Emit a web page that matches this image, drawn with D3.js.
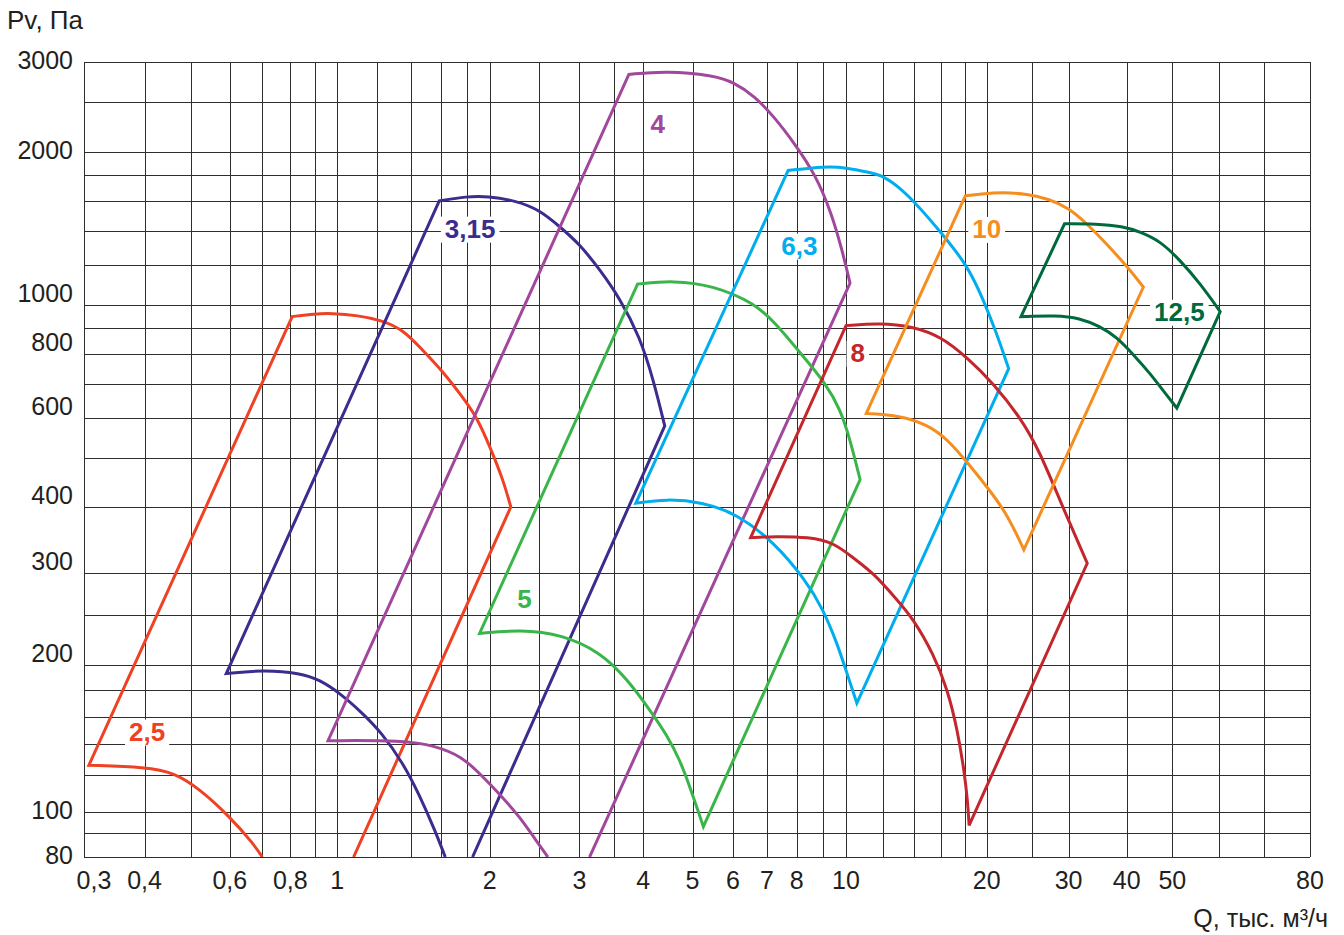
<!DOCTYPE html>
<html>
<head>
<meta charset="utf-8">
<script src="https://cdn.jsdelivr.net/npm/d3@7"></script>
<style>
body { margin: 0; background: #fff; }
svg text { font-family: "Liberation Sans", Arial, Helvetica, sans-serif; fill: #231f20; }
</style>
</head>
<body>
<svg id="chart" width="1344" height="935"></svg>
<script>
// grid lines and labelled ticks, Q in thousand m3/h, P in Pa
const qGrid = [0.3, 0.4, 0.5, 0.6, 0.7, 0.8, 0.9, 1, 1.2, 1.4, 1.6, 1.8, 2, 2.5, 3, 3.5, 4, 5, 6, 7, 8, 9,
    10, 12, 14, 16, 18, 20, 25, 30, 40, 50, 60, 70, 80];
const pGrid = [80, 90, 100, 120, 140, 160, 180, 200, 250, 300, 400, 500, 600, 700, 800, 900, 1000,
    1200, 1400, 1600, 1800, 2000, 2500, 3000];
const qTicks = [0.3, 0.4, 0.6, 0.8, 1, 2, 3, 4, 5, 6, 7, 8, 10, 20, 30, 40, 50, 80];
const pTicks = [80, 100, 200, 300, 400, 600, 800, 1000, 2000, 3000];

// fan envelopes: top = max speed curve, bottom = min speed curve (left to right),
// end = foot of the right-hand line on the 80 Pa axis (null when it closes on the bottom curve)
const fan25Top = [[0.807, 950], [0.9, 962], [0.97, 965], [1.1, 955], [1.225, 934], [1.35, 895], [1.47, 818],
    [1.61, 744], [1.762, 662], [1.89, 600], [2.0, 527], [2.125, 453], [2.2, 400]];
const fan25Bottom = [[0.307, 126], [0.404, 124.8], [0.46, 121.5], [0.52, 112], [0.6, 97.5], [0.67, 85.6], [0.7, 80]];
const fan25End = [1.077, 80];

const fan315Top = [[1.59, 1604], [1.8, 1637], [1.98, 1640], [2.26, 1604], [2.5, 1541], [2.74, 1430], [3.0, 1320],
    [3.29, 1175], [3.6, 1032], [3.94, 867], [4.19, 713], [4.41, 578]];
const fan315Bottom = [[0.59, 193], [0.7, 196], [0.84, 193.5], [0.92, 187.8], [1.01, 177.7], [1.114, 163.9],
    [1.224, 148.2], [1.35, 127.1], [1.449, 109.3], [1.56, 91.1], [1.634, 80]];
const fan315End = [1.85, 80];

const fan4Top = [[3.75, 2832], [4.44, 2876], [5.5, 2819], [6.02, 2734], [6.62, 2570], [7.25, 2334], [7.93, 2078],
    [8.72, 1805], [9.37, 1516], [9.83, 1282], [10.2, 1106]];
const fan4Bottom = [[0.957, 142.4], [1.35, 142.7], [1.56, 138.9], [1.762, 131.7], [1.92, 120.3], [2.09, 109.3],
    [2.29, 97.5], [2.466, 86.8], [2.6, 80]];
const fan4End = [3.14, 80];

const fan5Top = [[3.9, 1101], [4.58, 1119], [5.5, 1094], [6.62, 1009], [7.25, 925], [8.18, 800], [9.12, 702],
    [9.75, 623], [10.2, 544], [10.72, 453]];
const fan5Bottom = [[1.91, 230], [2.29, 234], [2.78, 229], [3.29, 212], [3.71, 189.4], [4.19, 161.6],
    [4.44, 147], [4.72, 129.6], [4.93, 113.8], [5.12, 100.8], [5.25, 92.9]];

const fan63Top = [[7.7, 1841], [9.1, 1877], [10.0, 1866], [11.27, 1823], [12, 1800], [13.47, 1668], [16, 1389],
    [18.2, 1197], [19.69, 1024], [21.0, 881], [22.3, 750]];
const fan63Bottom = [[3.87, 407], [4.44, 415], [5.22, 409], [6.1, 389], [7.25, 342], [8.32, 291], [9.0, 257],
    [9.63, 219], [10.1, 190.6], [10.55, 170]];

const fan8Top = [[10, 912], [11.8, 923], [13.88, 909], [16, 867], [18.2, 787], [20.66, 702], [23.6, 602],
    [26, 515], [28.7, 413], [32.9, 313]];
const fan8Bottom = [[6.5, 350], [7.25, 352], [8.45, 351], [9.5, 342], [10.37, 320], [11.45, 300], [12.84, 267],
    [13.9, 246], [15.4, 210], [16.5, 180], [17.3, 150.8], [17.9, 122.6], [18.2, 105.8], [18.34, 93.5]];

const fan10Top = [[18, 1641], [19.4, 1655], [21.7, 1668], [24.4, 1655], [27.3, 1617], [30, 1554], [32.7, 1454],
    [36.2, 1320], [40, 1195], [43.4, 1086]];
const fan10Bottom = [[11.05, 612], [13.04, 606], [14.9, 582], [16.5, 544], [18.2, 489], [20, 439], [22.1, 389],
    [24.04, 332]];

const fan125Top = [[29.4, 1446], [34.4, 1446], [39.2, 1430], [42.7, 1395], [47.1, 1338], [51.5, 1228],
    [55.7, 1106], [60.3, 972]];
const fan125Bottom = [[23.7, 950], [28.2, 955], [31.7, 944], [35, 909], [38, 867], [41.3, 800], [44.9, 733],
    [48.2, 672], [50.9, 627]];

const fanNames = ["2,5", "3,15", "4", "5", "6,3", "8", "10", "12,5"];
const fanLabelAt = [[0.405, 149], [1.83, 1415], [4.27, 2270], [2.34, 268], [8.1, 1310], [10.6, 805], [20, 1413],
    [51.4, 971]];
const fanColors = ["#ef4123", "#3b2c8e", "#a1479c", "#3ab54a", "#00adee", "#c4262d", "#f68d1f", "#006a3d"];

const fans = [
    {top: fan25Top, bottom: fan25Bottom, end: fan25End},
    {top: fan315Top, bottom: fan315Bottom, end: fan315End},
    {top: fan4Top, bottom: fan4Bottom, end: fan4End},
    {top: fan5Top, bottom: fan5Bottom, end: null},
    {top: fan63Top, bottom: fan63Bottom, end: null},
    {top: fan8Top, bottom: fan8Bottom, end: null},
    {top: fan10Top, bottom: fan10Bottom, end: null},
    {top: fan125Top, bottom: fan125Bottom, end: null}
];

const svg = d3.select("#chart");

// the printed grid is not evenly logarithmic, so the log scales are pinned
// to where the print puts a few of the grid values
const x = d3.scaleLog()
    .domain([0.3, 1, 2, 10, 20, 40, 50, 60, 70, 80])
    .range([84, 337.3, 489.7, 846, 986.7, 1126.7, 1172.3, 1218.7, 1264.3, 1310]);
const y = d3.scaleLog()
    .domain([80, 100, 160, 200, 300, 400, 1000, 2000, 3000])
    .range([857, 811.7, 717.3, 665.3, 573, 507, 305.3, 152.2, 61.5]);

const plotLeft = x(0.3), plotRight = x(80), plotTop = y(3000), plotBottom = y(80);

svg.append("defs").append("clipPath").attr("id", "plotClip")
    .append("rect")
    .attr("x", plotLeft).attr("y", plotTop)
    .attr("width", plotRight - plotLeft).attr("height", plotBottom - plotTop);

const grid = svg.append("g").attr("shape-rendering", "crispEdges")
    .attr("stroke", "#2e2e2e").attr("stroke-width", 1);
grid.selectAll(".vline").data(qGrid).enter().append("line")
    .attr("x1", d => Math.round(x(d)) + 0.5).attr("x2", d => Math.round(x(d)) + 0.5)
    .attr("y1", plotTop).attr("y2", plotBottom);
grid.selectAll(".hline").data(pGrid).enter().append("line")
    .attr("y1", d => Math.round(y(d)) + 0.5).attr("y2", d => Math.round(y(d)) + 0.5)
    .attr("x1", plotLeft).attr("x2", plotRight);

// tick labels
const fmt = d => String(d).replace(".", ",");
svg.append("g").selectAll("text").data(qTicks).enter().append("text")
    .attr("x", (d, i) => x(d) + (i === 0 ? 10 : 0))
    .attr("y", 889)
    .attr("text-anchor", "middle")
    .attr("font-size", 25)
    .text(fmt);

const raisedPTicks = [200, 300, 400, 600, 800, 1000];
svg.append("g").selectAll("text").data(pTicks).enter().append("text")
    .attr("x", 73)
    .attr("y", d => y(d) + (raisedPTicks.includes(d) ? -3 : 7))
    .attr("text-anchor", "end")
    .attr("font-size", 25)
    .text(fmt);

svg.append("text").attr("x", 7).attr("y", 29).attr("font-size", 26).text("Pv, Па");
svg.append("text").attr("x", 1328).attr("y", 927).attr("text-anchor", "end").attr("font-size", 25)
    .text("Q, тыс. м³/ч");

// fan outlines: smooth B-spline through the read points, straight fan lines between
const curved = d3.line().x(d => x(d[0])).y(d => y(d[1])).curve(d3.curveBasis);
const straight = d3.line().x(d => x(d[0])).y(d => y(d[1]));

function outline(f) {
    const closed = f.end === null;
    const foot = closed ? f.bottom[f.bottom.length - 1] : f.end;
    const pieces = [
        curved(f.bottom.slice().reverse()),
        straight([f.bottom[0], f.top[0]]),
        curved(f.top),
        straight([f.top[f.top.length - 1], foot])
    ];
    return pieces.map((p, i) => i ? p.replace(/^M[^A-Za-z]*/, "") : p).join("") + (closed ? "Z" : "");
}

const boxLayer = svg.append("g");
const curveLayer = svg.append("g").attr("clip-path", "url(#plotClip)");
const labelLayer = svg.append("g");

curveLayer.selectAll("path").data(fans).enter().append("path")
    .attr("d", outline)
    .attr("fill", "none")
    .attr("stroke", (d, i) => fanColors[i])
    .attr("stroke-width", 3)
    .attr("stroke-linejoin", "miter");

labelLayer.selectAll("text").data(fanNames).enter().append("text")
    .attr("x", (d, i) => x(fanLabelAt[i][0]))
    .attr("y", (d, i) => y(fanLabelAt[i][1]) + 9)
    .attr("text-anchor", "middle")
    .attr("font-size", 26)
    .attr("font-weight", "bold")
    .style("fill", (d, i) => fanColors[i])
    .text(d => d)
    .each(function () {
        const b = this.getBBox();
        boxLayer.append("rect")
            .attr("x", b.x - 4).attr("y", b.y + 3)
            .attr("width", b.width + 8).attr("height", b.height - 4)
            .attr("fill", "#fff");
    });
</script>
</body>
</html>
